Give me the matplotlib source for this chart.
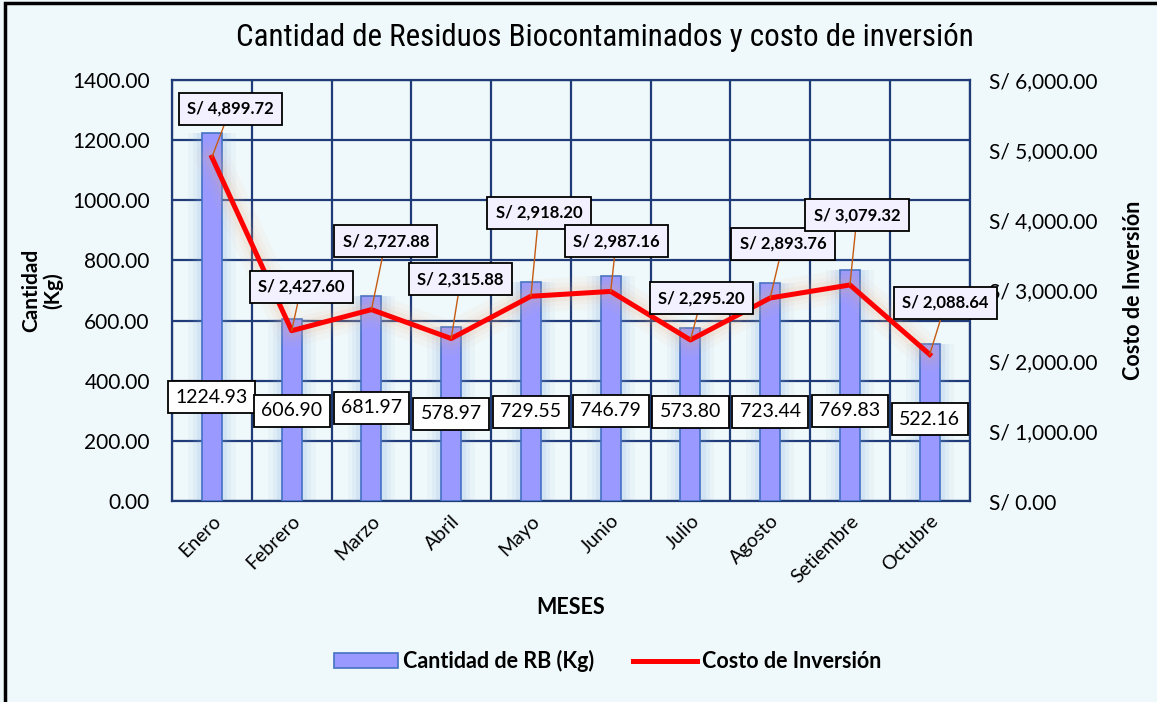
import matplotlib
matplotlib.use("Agg")
import matplotlib.pyplot as plt
from matplotlib.patches import Rectangle
from matplotlib.ticker import FuncFormatter, MultipleLocator
from matplotlib import font_manager

meses = ["Enero", "Febrero", "Marzo", "Abril", "Mayo", "Junio", "Julio",
         "Agosto", "Setiembre", "Octubre"]
cantidad = [1224.93, 606.90, 681.97, 578.97, 729.55, 746.79, 573.80,
            723.44, 769.83, 522.16]
costo = [4899.72, 2427.60, 2727.88, 2315.88, 2918.20, 2987.16, 2295.20,
         2893.76, 3079.32, 2088.64]

# label placement (style/position only)
bar_lab_y = [345, 300, 310, 290, 297, 300, 297, 297, 300, 272]
cost_lab_dx = [0.23, 0.12, 0.18, 0.12, 0.10, 0.07, 0.14, 0.16, 0.09, 0.20]
cost_lab_y = [5587, 3050, 3705, 3164, 4105, 3705, 2893, 3663, 4076, 2822]

plt.rcParams['font.family'] = ['Lato', 'DejaVu Sans']
bg = "#EFF8FA"
grid_c = "#1F3B78"

names = {f.name for f in font_manager.fontManager.ttflist}
title_font, title_stretch = 'DejaVu Sans', 'condensed'
for cand in ['Roboto Condensed', 'Open Sans Condensed', 'Noto Sans Condensed',
             'Liberation Sans Narrow', 'DejaVu Sans Condensed']:
    if cand in names:
        title_font, title_stretch = cand, 'normal'
        break

fig = plt.figure(figsize=(11.57, 7.02), dpi=100, facecolor=bg)
ax = fig.add_axes([0.1487, 0.2863, 0.6893, 0.5997])
ax.set_facecolor(bg)
x = list(range(len(meses)))

# glow behind bars
for w, a in [(0.60, 0.06), (0.48, 0.09), (0.38, 0.12)]:
    ax.bar(x, cantidad, width=w, color="#7FA8E8", alpha=a, zorder=2, linewidth=0)
bars = ax.bar(x, cantidad, width=0.25, color="#9999FF", edgecolor="#4472C4",
              linewidth=1.2, zorder=3, label="Cantidad de RB (Kg)")

ax.set_xlim(-0.5, len(meses) - 0.5)
ax.set_ylim(0, 1400)
ax.yaxis.set_major_locator(MultipleLocator(200))
ax.yaxis.set_major_formatter(FuncFormatter(lambda v, p: f"{v:.2f}"))
ax.grid(axis='y', color=grid_c, linewidth=1.6, zorder=1)
for b in [i + 0.5 for i in range(-1, len(meses))]:
    ax.axvline(b, color=grid_c, linewidth=1.6, zorder=1)
for s in ax.spines.values():
    s.set_color(grid_c)
    s.set_linewidth(1.6)
ax.set_xticks(x)
ax.set_xticklabels(meses, rotation=45, ha='right', rotation_mode='anchor',
                   fontsize=14)
ax.tick_params(axis='both', length=0, pad=8)
ax.tick_params(axis='y', labelsize=15, pad=16)
ax.set_xlabel("MESES", fontsize=15.5, fontweight='bold', labelpad=8)
ax.set_ylabel("Cantidad\n(Kg)", fontsize=15, fontweight='bold',
              linespacing=1.05)
ax.yaxis.set_label_coords(-0.137, 0.5)

for i, v in enumerate(cantidad):
    ax.text(i, bar_lab_y[i], f"{v:.2f}", ha='center', va='center', fontsize=14,
            zorder=6, bbox=dict(boxstyle='square,pad=0.38', fc='white',
                                ec='black', lw=1.3))

ax2 = ax.twinx()
ax2.set_ylim(0, 6000)
ax2.yaxis.set_major_locator(MultipleLocator(1000))
ax2.yaxis.set_major_formatter(FuncFormatter(lambda v, p: f"S/ {v:,.2f}"))
ax2.tick_params(axis='y', length=0, labelsize=15, pad=14)
for s in ax2.spines.values():
    s.set_visible(False)
ax2.set_ylabel("Costo de Inversión", fontsize=15.5, fontweight='bold')
ax2.yaxis.set_label_coords(1.193, 0.5)

for lw, a in [(24, 0.05), (16, 0.08), (10, 0.12)]:
    ax2.plot(x, costo, color="#F4B183", lw=lw, alpha=a, solid_capstyle='round',
             solid_joinstyle='round', zorder=2)
ln, = ax2.plot(x, costo, color="#FF0000", lw=3.6, zorder=4,
               solid_joinstyle='round', label="Costo de Inversión")

for i, v in enumerate(costo):
    ax2.annotate(f"S/ {v:,.2f}", xy=(i, v), xytext=(i + cost_lab_dx[i], cost_lab_y[i]),
                 ha='center', va='center', fontsize=12, fontweight='bold', zorder=7,
                 bbox=dict(boxstyle='square,pad=0.5', fc='#F3F1FF', ec='black', lw=1.3),
                 arrowprops=dict(arrowstyle='-', color='#C55A11', lw=1.0,
                                 shrinkA=0, shrinkB=0))

leg = fig.legend([bars, ln], ["Cantidad de RB (Kg)", "Costo de Inversión"],
                 loc='center', bbox_to_anchor=(0.525, 0.058), ncol=2, frameon=False,
                 prop=dict(size=15.5, weight='bold'), handlelength=3.0,
                 handletextpad=0.2, columnspacing=1.8)

title = fig.text(0.5225, 0.947, "Cantidad de Residuos Biocontaminados y costo de inversión",
                 ha='center', va='center', fontsize=20, family=[title_font],
                 fontstretch=title_stretch)
# fit title to the reference width (~737 px)
renderer = fig.canvas.get_renderer()
w = title.get_window_extent(renderer).width
title.set_fontsize(20 * 737.0 / w)

fig.add_artist(Rectangle((0.004, -0.05), 1.05, 1.046, transform=fig.transFigure,
                         fill=False, ec='black', lw=2.5))

fig.savefig("out.png", dpi=100, facecolor=bg)
